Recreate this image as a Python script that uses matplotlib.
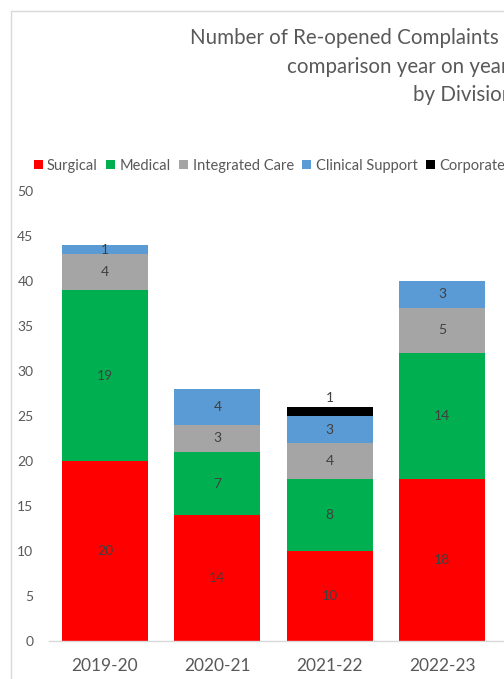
import matplotlib
matplotlib.use('Agg')
import matplotlib.pyplot as plt
import numpy as np
from matplotlib.patches import Rectangle

plt.rcParams['font.family'] = ['Lato', 'DejaVu Sans']

# dados do grafico
anos = ['2019-20', '2020-21', '2021-22', '2022-23']
divisoes = ['Surgical', 'Medical', 'Integrated Care', 'Clinical Support', 'Corporate']
surgical = [20, 14, 10, 18]
medical = [19, 7, 8, 14]
integrated = [4, 3, 4, 5]
clinical = [1, 4, 3, 3]
corporate = [0, 0, 1, 0]
cores = ['#FF0000', '#00B050', '#A5A5A5', '#5B9BD5', '#000000']

texto = '#595959'
rotulo = '#404040'

fig = plt.figure(figsize=(5.04, 6.79), dpi=100)
ax = fig.add_axes([48.75 / 504, 1 - 641 / 679, 1 - 48.75 / 504, (641 - 191) / 679])

x = np.arange(len(anos))
base = np.zeros(len(anos))
series = [surgical, medical, integrated, clinical, corporate]
for nome, valores, cor in zip(divisoes, series, cores):
    valores = np.array(valores)
    barras = ax.bar(x, valores, 0.765, bottom=base, color=cor, label=nome, zorder=2)
    labels = [str(v) if v > 0 else '' for v in valores]
    if nome == 'Corporate':
        ax.bar_label(barras, labels=labels, label_type='edge', padding=2,
                     fontsize=10, color=rotulo)
    else:
        ax.bar_label(barras, labels=labels, label_type='center',
                     fontsize=10, color=rotulo)
    base = base + valores

ax.set_xlim(-0.5, 3.55)
ax.set_ylim(0, 50)
ax.set_yticks(np.arange(0, 51, 5))
ax.set_xticks(x)
ax.set_xticklabels(anos, fontsize=12.5, color=texto)
ax.tick_params(axis='y', length=0, pad=11, labelsize=10, labelcolor=texto)
ax.tick_params(axis='x', length=0, pad=12)
for lado in ['top', 'right', 'left']:
    ax.spines[lado].set_visible(False)
ax.spines['bottom'].set_color('#D9D9D9')
ax.spines['bottom'].set_linewidth(1)

# titulo (cortado na direita como na imagem)
fig.text(190 / 504, 1 - 38 / 679, 'Number of Re-opened Complaints -', fontsize=14.8,
         color=texto, ha='left', va='center')
fig.text(287 / 504, 1 - 67 / 679, 'comparison year on year', fontsize=14.8,
         color=texto, ha='left', va='center')
fig.text(413 / 504, 1 - 95 / 679, 'by Division', fontsize=14.8,
         color=texto, ha='left', va='center')

# legenda
fig.legend(loc='center left', bbox_to_anchor=(28 / 504, 1 - 166 / 679), ncol=5,
           frameon=False, fontsize=10.5, labelcolor=texto, handlelength=0.6,
           handleheight=0.6, handletextpad=0.3, columnspacing=0.6, borderaxespad=0)

# borda do grafico
fig.add_artist(Rectangle((10.5 / 504, -0.1), 2, 1 - 11 / 679 + 0.1, transform=fig.transFigure,
                         fill=False, edgecolor='#D9D9D9', linewidth=1))

fig.savefig('out.png', dpi=100)
